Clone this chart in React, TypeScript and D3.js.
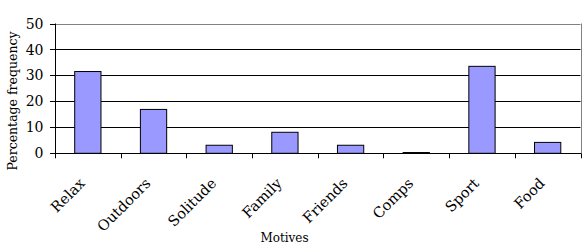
import React from "react";
import * as d3 from "d3";

const categories = ["Relax", "Outdoors", "Solitude", "Family", "Friends", "Comps", "Sport", "Food"];
const values = [31.5, 16.9, 3.1, 8.1, 3.1, 0.3, 33.5, 4.2];
const yTicks = [0, 10, 20, 30, 40, 50];

const W = 585, H = 249;
const M = { left: 55, right: 4.5, top: 23.5, bottom: 95.7 };
const FONT = "'DejaVu Serif', serif";

export default function App() {
  const x = d3.scaleBand<string>().domain(categories).range([M.left, W - M.right]).paddingInner(0).paddingOuter(0);
  const y = d3.scaleLinear().domain([0, 50]).range([H - M.bottom, M.top]);
  const bw = x.bandwidth() * 0.4;
  const x0 = M.left, x1 = W - M.right, y0 = y(0), yTop = y(50);
  return (
    <svg width={W} height={H} style={{ position: "absolute", left: 0, top: 0, background: "#fff" }}>
      <rect x={0} y={0} width={W} height={H} fill="#fff" />
      {yTicks.filter(t => t > 0 && t < 50).map(t => (
        <line key={t} x1={x0} x2={x1} y1={Math.round(y(t)) + 0.5} y2={Math.round(y(t)) + 0.5} stroke="#000" strokeWidth={1} />
      ))}
      <line x1={x0} x2={x1} y1={Math.round(yTop) + 0.5} y2={Math.round(yTop) + 0.5} stroke="#808080" strokeWidth={1} />
      <line x1={Math.round(x1) + 0.5} x2={Math.round(x1) + 0.5} y1={yTop} y2={y0} stroke="#808080" strokeWidth={1} />
      {categories.map((c, i) => {
        const cx = (x(c) as number) + x.bandwidth() / 2;
        const yv = y(values[i]);
        return (
          <rect key={c} x={cx - bw / 2} y={yv} width={bw} height={y0 - yv} fill="#9999FF" stroke="#000" strokeWidth={1} />
        );
      })}
      <line x1={Math.round(x0) + 0.5} x2={Math.round(x0) + 0.5} y1={yTop} y2={y0} stroke="#000" strokeWidth={1} />
      <line x1={x0} x2={x1 + 0.5} y1={Math.round(y0) + 0.5} y2={Math.round(y0) + 0.5} stroke="#000" strokeWidth={1} />
      {yTicks.map(t => (
        <g key={t}>
          <line x1={x0 - 5} x2={x0} y1={Math.round(y(t)) + 0.5} y2={Math.round(y(t)) + 0.5} stroke="#000" />
          <text x={x0 - 11.5} y={y(t)} dy="0.36em" textAnchor="end" fontFamily={FONT} fontSize={14} fill="#000">{t}</text>
        </g>
      ))}
      {d3.range(categories.length + 1).map(i => {
        const tx = Math.round(M.left + i * x.bandwidth()) + 0.5;
        return <line key={i} x1={tx} x2={tx} y1={y0} y2={y0 + 5} stroke="#000" />;
      })}
      {categories.map(c => {
        const cx = (x(c) as number) + x.bandwidth() / 2;
        return (
          <text key={c} transform={`translate(${cx - 2},${y0 + 31}) rotate(-45)`} textAnchor="end" fontFamily={FONT} fontSize={14.5} fill="#000">{c}</text>
        );
      })}
      <text x={284.5} y={241.5} textAnchor="middle" fontFamily={FONT} fontSize={12} fill="#000">Motives</text>
      <text transform={`translate(17,101) rotate(-90)`} textAnchor="middle" fontFamily={FONT} fontSize={12.5} fill="#000">Percentage frequency</text>
    </svg>
  );
}
